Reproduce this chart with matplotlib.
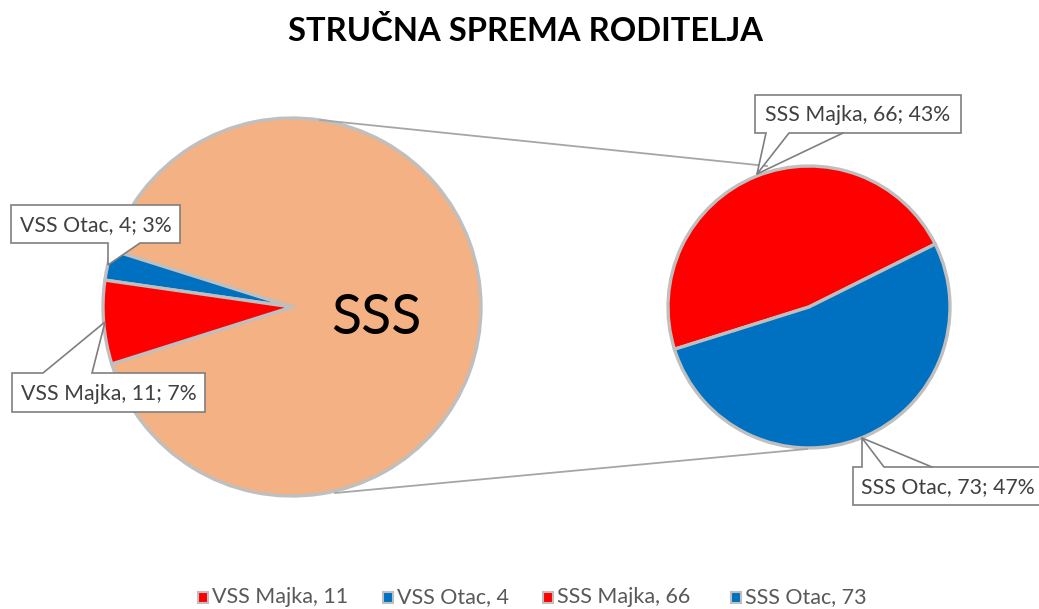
import matplotlib
matplotlib.use("Agg")
import matplotlib.pyplot as plt
from matplotlib.patches import Polygon, Rectangle

# ---- data ----
title = "STRUČNA SPREMA RODITELJA"
main_labels = ["VSS Majka", "VSS Otac"]
main_values = [11, 4]
sec_labels = ["SSS Majka", "SSS Otac"]
sec_values = [66, 73]
other_label = "SSS"
colors_main = ["#FF0000", "#0070C0"]
colors_sec = ["#FF0000", "#0070C0"]
other_color = "#F4B183"

W, H = 1039, 609
FONT = "Lato"
plt.rcParams["font.family"] = [FONT, "DejaVu Sans"]

fig = plt.figure(figsize=(W / 100, H / 100), dpi=100)
ax = fig.add_axes([0, 0, 1, 1])


def P(x, y):
    return (x, H - y)


total = sum(main_values) + sum(sec_values)
other_total = sum(sec_values)
edge = "#BFBFBF"

# main pie: "other" slice centred pointing right
other_span = other_total / total * 360
ax.pie([other_total, main_values[1], main_values[0]],
       colors=[other_color, colors_main[1], colors_main[0]],
       startangle=-other_span / 2, counterclock=True,
       center=P(292, 307), radius=189,
       wedgeprops=dict(edgecolor=edge, linewidth=2.4), frame=True)

# secondary pie
ax.pie(sec_values, colors=colors_sec, startangle=26.5, counterclock=True,
       center=P(809, 307), radius=141,
       wedgeprops=dict(edgecolor=edge, linewidth=2.4), frame=True)

ax.set_xlim(0, W)
ax.set_ylim(0, H)
ax.set_aspect("auto")
ax.axis("off")

# connector lines
line_col = "#A6A6A6"
ax.plot(*zip(P(320, 120), P(767, 166)), color=line_col, lw=1.3, zorder=1)
ax.plot(*zip(P(335, 493), P(807, 449)), color=line_col, lw=1.3, zorder=1)

# big SSS text
ax.text(*P(376, 319), other_label, fontsize=40, ha="center", va="center",
        color="black", zorder=5)

# callouts
box_edge = "#7F7F7F"
txt_col = "#404040"


def callout(box, side, b1, b2, tip, text, extra=None, text_x=None):
    x0, y0, x1, y1 = box
    if side == "bottom":
        pts = [(x0, y0), (x1, y0), (x1, y1), (b2, y1), tip, (b1, y1), (x0, y1)]
    else:
        pts = [(x0, y0), (b1, y0), tip, (b2, y0), (x1, y0), (x1, y1), (x0, y1)]
    poly = Polygon([P(*p) for p in pts], closed=True, facecolor="white",
                   edgecolor=box_edge, lw=1.2, zorder=6)
    ax.add_patch(poly)
    if extra is not None:
        ax.plot(*zip(P(*extra), P(*tip)), color=box_edge, lw=1.2, zorder=6)
    if text_x is None:
        ax.text(*P((x0 + x1) / 2, (y0 + y1) / 2 + 1), text, ha="center",
                va="center", fontsize=15.3, color=txt_col, zorder=7)
    else:
        ax.text(*P(text_x, (y0 + y1) / 2 + 1), text, ha="left",
                va="center", fontsize=15.3, color=txt_col, zorder=7)


def lab(name, v):
    return f"{name}, {v}; {round(v / total * 100)}%"


callout((11, 205, 180, 243), "bottom", 108, 140, (108, 265),
        lab(main_labels[1], main_values[1]))
callout((12, 373, 205, 412), "top", 43, 92, (105, 322),
        lab(main_labels[0], main_values[0]))
callout((755, 95, 961, 133), "bottom", 766, 789, (757, 174),
        lab(sec_labels[0], sec_values[0]), extra=(843, 133))
callout((853, 467, 1050, 505), "top", 862, 884, (862, 438),
        lab(sec_labels[1], sec_values[1]), extra=(932, 467), text_x=861)

# title
ax.text(*P(525, 31), title, ha="center", va="center", fontsize=23.6,
        fontweight="bold", color="black")

# legend
leg_labels = [f"{n}, {v}" for n, v in zip(main_labels + sec_labels,
                                          main_values + sec_values)]
leg_colors = colors_main + colors_sec
leg_x = [203, 388, 548, 736]
for x, l, c in zip(leg_x, leg_labels, leg_colors):
    ax.add_patch(Rectangle(P(x - 5, 603), 10, 11, facecolor=c,
                           edgecolor="#BFBFBF", lw=1.5, zorder=5))
    ax.text(*P(x + 9, 597), l, ha="left", va="center", fontsize=15.5,
            color="#595959")

fig.savefig("out.png", dpi=100)
